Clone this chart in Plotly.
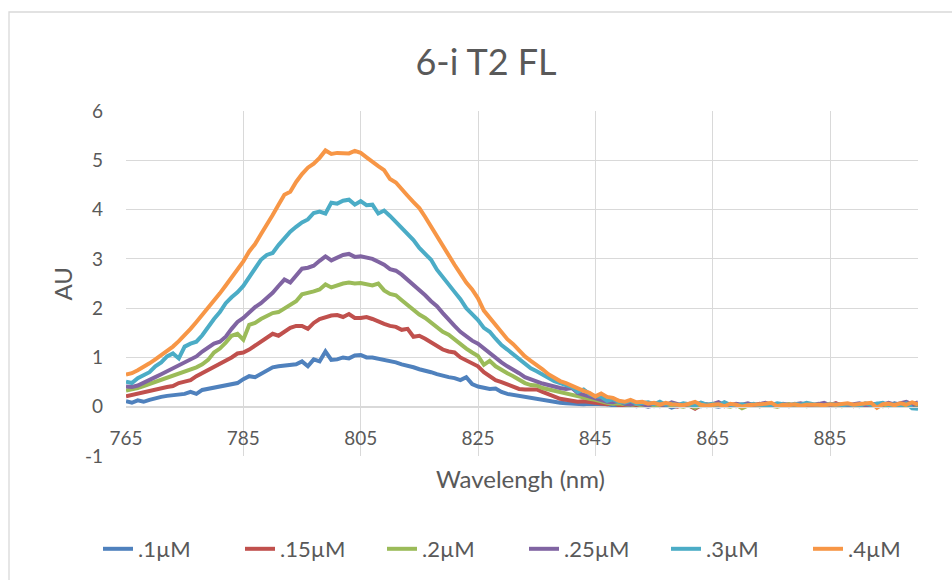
import plotly.graph_objects as go

wavelength = list(range(765, 901))

conc_labels = [".1µM", ".15µM", ".2µM", ".25µM", ".3µM", ".4µM"]
colors = ["#4F81BD", "#C0504D", "#9BBB59", "#8064A2", "#4BACC6", "#F79646"]

s_01 = [
    0.11, 0.08, 0.13, 0.10, 0.14, 0.18, 0.20, 0.22, 0.23, 0.24,
    0.26, 0.30, 0.26, 0.34, 0.36, 0.38, 0.40, 0.42, 0.44, 0.48,
    0.56, 0.62, 0.60, 0.66, 0.74, 0.80, 0.82, 0.83, 0.84, 0.86,
    0.92, 0.82, 0.96, 0.92, 1.12, 0.95, 0.96, 1.00, 0.98, 1.04,
    1.05, 1.00, 1.00, 0.98, 0.96, 0.94, 0.90, 0.86, 0.84, 0.80,
    0.76, 0.74, 0.70, 0.66, 0.62, 0.60, 0.58, 0.54, 0.60, 0.46,
    0.41, 0.39, 0.36, 0.37, 0.30, 0.26, 0.24, 0.21, 0.19, 0.18,
    0.17, 0.15, 0.12, 0.10, 0.08, 0.07, 0.06, 0.06, 0.05, 0.06,
    0.06, 0.04, 0.05, 0.03, 0.02, 0.02, 0.04, 0.01, 0.03, 0.00,
    0.03, 0.01, 0.04, -0.02, 0.02, 0.03, 0.05, 0.02, 0.01, 0.04,
    0.02, 0.00, 0.03, 0.05, 0.01, 0.03, 0.02, 0.04, 0.01, 0.03,
    0.05, 0.02, 0.03, 0.01, 0.04, 0.02, 0.05, 0.03, 0.06, 0.02,
    0.04, 0.01, 0.03, 0.05, 0.02, 0.04, 0.03, 0.06, 0.02, 0.05,
    0.03, 0.07, 0.04, 0.02, 0.06, 0.03,
]

s_015 = [
    0.21, 0.24, 0.27, 0.30, 0.32, 0.35, 0.38, 0.40, 0.42, 0.48,
    0.51, 0.54, 0.62, 0.68, 0.74, 0.80, 0.86, 0.92, 1.00, 1.08,
    1.10, 1.16, 1.24, 1.32, 1.40, 1.48, 1.44, 1.52, 1.60, 1.64,
    1.64, 1.58, 1.70, 1.78, 1.82, 1.85, 1.86, 1.82, 1.88, 1.80,
    1.80, 1.82, 1.78, 1.72, 1.68, 1.64, 1.62, 1.56, 1.58, 1.42,
    1.44, 1.38, 1.30, 1.22, 1.16, 1.12, 1.10, 1.00, 0.94, 0.88,
    0.82, 0.70, 0.62, 0.54, 0.50, 0.45, 0.40, 0.36, 0.35, 0.36,
    0.35, 0.30, 0.25, 0.20, 0.16, 0.14, 0.12, 0.10, 0.11, 0.10,
    0.09, 0.06, 0.05, 0.08, 0.03, 0.03, 0.05, 0.02, 0.06, 0.01,
    0.04, 0.02, 0.05, 0.03, 0.00, 0.04, 0.02, -0.04, 0.03, 0.05,
    0.02, 0.04, 0.01, 0.03, 0.05, 0.02, 0.04, 0.03, 0.06, 0.02,
    0.04, 0.01, 0.03, 0.05, 0.02, 0.04, 0.06, 0.03, 0.02, 0.05,
    0.03, 0.07, 0.02, 0.04, 0.01, 0.05, 0.03, 0.06, 0.02, 0.04,
    0.01, 0.06, 0.03, 0.07, 0.02, 0.04,
]

s_02 = [
    0.33, 0.35, 0.38, 0.42, 0.46, 0.50, 0.54, 0.58, 0.62, 0.66,
    0.71, 0.74, 0.80, 0.86, 0.95, 1.10, 1.18, 1.30, 1.44, 1.48,
    1.36, 1.66, 1.70, 1.78, 1.84, 1.90, 1.92, 2.00, 2.08, 2.14,
    2.28, 2.30, 2.34, 2.38, 2.48, 2.42, 2.47, 2.50, 2.52, 2.50,
    2.51, 2.48, 2.46, 2.50, 2.36, 2.29, 2.26, 2.16, 2.06, 1.98,
    1.87, 1.80, 1.70, 1.60, 1.52, 1.46, 1.36, 1.28, 1.18, 1.10,
    1.03, 0.85, 0.93, 0.82, 0.74, 0.68, 0.62, 0.55, 0.48, 0.44,
    0.43, 0.38, 0.35, 0.32, 0.30, 0.28, 0.25, 0.20, 0.18, 0.16,
    0.14, 0.10, 0.08, 0.06, 0.07, 0.05, 0.03, 0.06, 0.02, 0.04,
    0.01, 0.05, 0.03, 0.04, 0.02, 0.00, 0.03, -0.02, 0.04, 0.01,
    0.03, 0.05, 0.02, 0.00, 0.04, -0.03, 0.02, 0.03, 0.01, 0.04,
    0.02, 0.00, 0.03, 0.05, 0.02, 0.04, 0.01, 0.03, 0.02, 0.05,
    0.02, 0.04, 0.01, 0.03, 0.02, 0.03, 0.05, 0.02, 0.04, 0.01,
    0.03, 0.02, 0.05, 0.03, 0.06, 0.04,
]

s_025 = [
    0.41, 0.40, 0.43, 0.48, 0.54, 0.60, 0.66, 0.72, 0.78, 0.82,
    0.89, 0.94, 1.02, 1.12, 1.20, 1.28, 1.32, 1.42, 1.58, 1.72,
    1.80, 1.92, 2.02, 2.10, 2.20, 2.31, 2.45, 2.58, 2.52, 2.66,
    2.80, 2.82, 2.86, 2.96, 3.05, 2.97, 3.02, 3.08, 3.10, 3.04,
    3.05, 3.02, 3.00, 2.94, 2.88, 2.79, 2.76, 2.68, 2.58, 2.48,
    2.37, 2.26, 2.14, 2.04, 1.90, 1.76, 1.64, 1.52, 1.42, 1.34,
    1.28, 1.18, 1.08, 0.98, 0.90, 0.82, 0.76, 0.68, 0.60, 0.55,
    0.50, 0.47, 0.44, 0.40, 0.38, 0.36, 0.38, 0.28, 0.24, 0.20,
    0.16, 0.14, 0.10, 0.09, 0.12, 0.06, 0.04, 0.08, 0.05, 0.02,
    0.07, 0.04, 0.03, 0.09, 0.05, 0.02, 0.06, 0.04, 0.08, 0.03,
    0.05, 0.09, 0.03, 0.02, 0.06, 0.04, 0.07, 0.03, 0.05, 0.08,
    0.04, 0.02, 0.06, 0.03, 0.05, 0.07, 0.04, 0.02, 0.05, 0.08,
    0.03, 0.06, 0.04, 0.02, 0.05, 0.07, 0.03, 0.05, 0.06, 0.04,
    0.08, 0.04, 0.06, 0.10, 0.05, 0.09,
]

s_03 = [
    0.51, 0.48, 0.58, 0.64, 0.70, 0.82, 0.90, 1.02, 1.08, 0.98,
    1.22, 1.28, 1.32, 1.45, 1.62, 1.78, 1.92, 2.10, 2.22, 2.32,
    2.45, 2.62, 2.80, 2.98, 3.08, 3.12, 3.28, 3.42, 3.55, 3.65,
    3.74, 3.80, 3.93, 3.96, 3.92, 4.14, 4.12, 4.18, 4.20, 4.10,
    4.17, 4.09, 4.10, 3.92, 3.98, 3.87, 3.75, 3.62, 3.50, 3.38,
    3.22, 3.10, 2.98, 2.78, 2.64, 2.49, 2.33, 2.18, 2.00, 1.88,
    1.76, 1.60, 1.52, 1.38, 1.25, 1.16, 1.06, 0.96, 0.86, 0.78,
    0.72, 0.65, 0.58, 0.52, 0.48, 0.43, 0.40, 0.30, 0.35, 0.26,
    0.21, 0.20, 0.12, 0.15, 0.10, 0.08, 0.12, 0.06, 0.07, 0.09,
    0.05, 0.10, 0.04, 0.06, 0.03, 0.07, 0.05, 0.02, 0.08, 0.04,
    0.06, 0.03, 0.09, 0.04, 0.02, 0.05, 0.03, 0.06, 0.02, 0.04,
    0.03, 0.07, 0.05, 0.02, 0.06, 0.04, 0.08, 0.05, 0.03, 0.02,
    0.06, 0.04, 0.02, 0.05, 0.03, 0.01, 0.07, 0.04, 0.06, 0.08,
    0.03, 0.05, 0.02, 0.07, -0.03, -0.04,
]

s_04 = [
    0.65, 0.68, 0.74, 0.80, 0.88, 0.96, 1.05, 1.12, 1.22, 1.33,
    1.45, 1.58, 1.72, 1.86, 2.00, 2.13, 2.30, 2.46, 2.62, 2.80,
    2.95, 3.15, 3.30, 3.50, 3.68, 3.89, 4.10, 4.30, 4.36, 4.56,
    4.72, 4.85, 4.93, 5.05, 5.20, 5.13, 5.15, 5.15, 5.14, 5.19,
    5.15, 5.06, 4.96, 4.88, 4.80, 4.62, 4.55, 4.40, 4.28, 4.15,
    4.03, 3.85, 3.65, 3.45, 3.27, 3.08, 2.88, 2.70, 2.52, 2.38,
    2.20, 1.95, 1.80, 1.65, 1.50, 1.37, 1.27, 1.15, 1.02, 0.93,
    0.85, 0.76, 0.66, 0.58, 0.52, 0.48, 0.42, 0.36, 0.32, 0.28,
    0.21, 0.27, 0.20, 0.18, 0.12, 0.10, 0.14, 0.09, 0.10, 0.06,
    0.08, 0.04, 0.08, 0.05, 0.04, 0.03, 0.06, 0.10, 0.04, 0.02,
    0.04, 0.05, 0.01, 0.06, 0.04, 0.00, 0.03, 0.04, 0.03, 0.06,
    0.08, 0.01, 0.04, 0.03, 0.05, 0.02, 0.04, 0.05, 0.04, 0.03,
    0.05, 0.04, 0.06, 0.07, 0.04, 0.06, 0.08, 0.08, -0.02, 0.05,
    0.06, 0.03, 0.07, 0.04, 0.09, 0.05,
]

series = [s_01, s_015, s_02, s_025, s_03, s_04]

x_ticks = [765, 785, 805, 825, 845, 865, 885]
y_ticks = [-1, 0, 1, 2, 3, 4, 5, 6]

FONT = "Lato"
TXT = "#595959"
GRID = "#D9D9D9"

fig = go.Figure()
for name, vals, col in zip(conc_labels, series, colors):
    fig.add_trace(go.Scatter(
        x=wavelength, y=vals, mode="lines", name=name,
        line=dict(color=col, width=4),
    ))

fig.update_layout(
    width=952, height=580,
    margin=dict(l=126, r=34, t=111, b=124, autoexpand=False),
    paper_bgcolor="white", plot_bgcolor="white",
    font=dict(family=FONT, color=TXT, size=19),
    title=dict(text="6-i T2 FL", x=486 / 952, xref="container", xanchor="center",
               y=1 - 62 / 580, yref="container", yanchor="middle",
               font=dict(family=FONT, size=36, color=TXT)),
    showlegend=True,
    legend=dict(orientation="h", xref="paper", yref="paper",
                x=(98 - 126) / 792, xanchor="left", y=(456 - 549) / 345, yanchor="middle",
                font=dict(family=FONT, size=22, color=TXT),
                entrywidth=97, entrywidthmode="pixels", itemwidth=30,
                bgcolor="rgba(0,0,0,0)"),
    xaxis=dict(range=[765, 900], tickvals=x_ticks, ticktext=[str(v) for v in x_ticks],
               showgrid=True, gridcolor=GRID, gridwidth=1.3,
               zeroline=False, showline=True, linecolor=GRID, linewidth=1.3,
               anchor="free", position=1 / 7, ticks="", ticklabelstandoff=14,
               automargin=False,
               tickfont=dict(family=FONT, size=19, color=TXT)),
    yaxis=dict(range=[-1, 6], tickvals=y_ticks, ticktext=[str(v) for v in y_ticks],
               showgrid=True, gridcolor=GRID, gridwidth=1.3,
               zeroline=False, showline=False, ticks="", ticklabelstandoff=22,
               automargin=False,
               tickfont=dict(family=FONT, size=19, color=TXT)),
    annotations=[
        dict(text="Wavelengh (nm)", xref="paper", yref="paper", x=0.498,
             y=(456 - 478) / 345, xanchor="center", yanchor="middle", showarrow=False,
             font=dict(family=FONT, size=24, color=TXT)),
        dict(text="AU", xref="paper", yref="paper", x=(62 - 126) / 792,
             y=0.5, xanchor="center", yanchor="middle", showarrow=False, textangle=-90,
             font=dict(family=FONT, size=24, color=TXT)),
    ],
    shapes=[
        dict(type="rect", xref="paper", yref="paper",
             x0=(9 - 126) / 792, x1=1.2, y0=-0.6, y1=(456 - 12) / 345,
             line=dict(color=GRID, width=1.3), fillcolor="rgba(0,0,0,0)", layer="below"),
    ],
)

fig.write_html("out.html", config={"displayModeBar": False},
               post_script="document.body.style.margin='0';")
